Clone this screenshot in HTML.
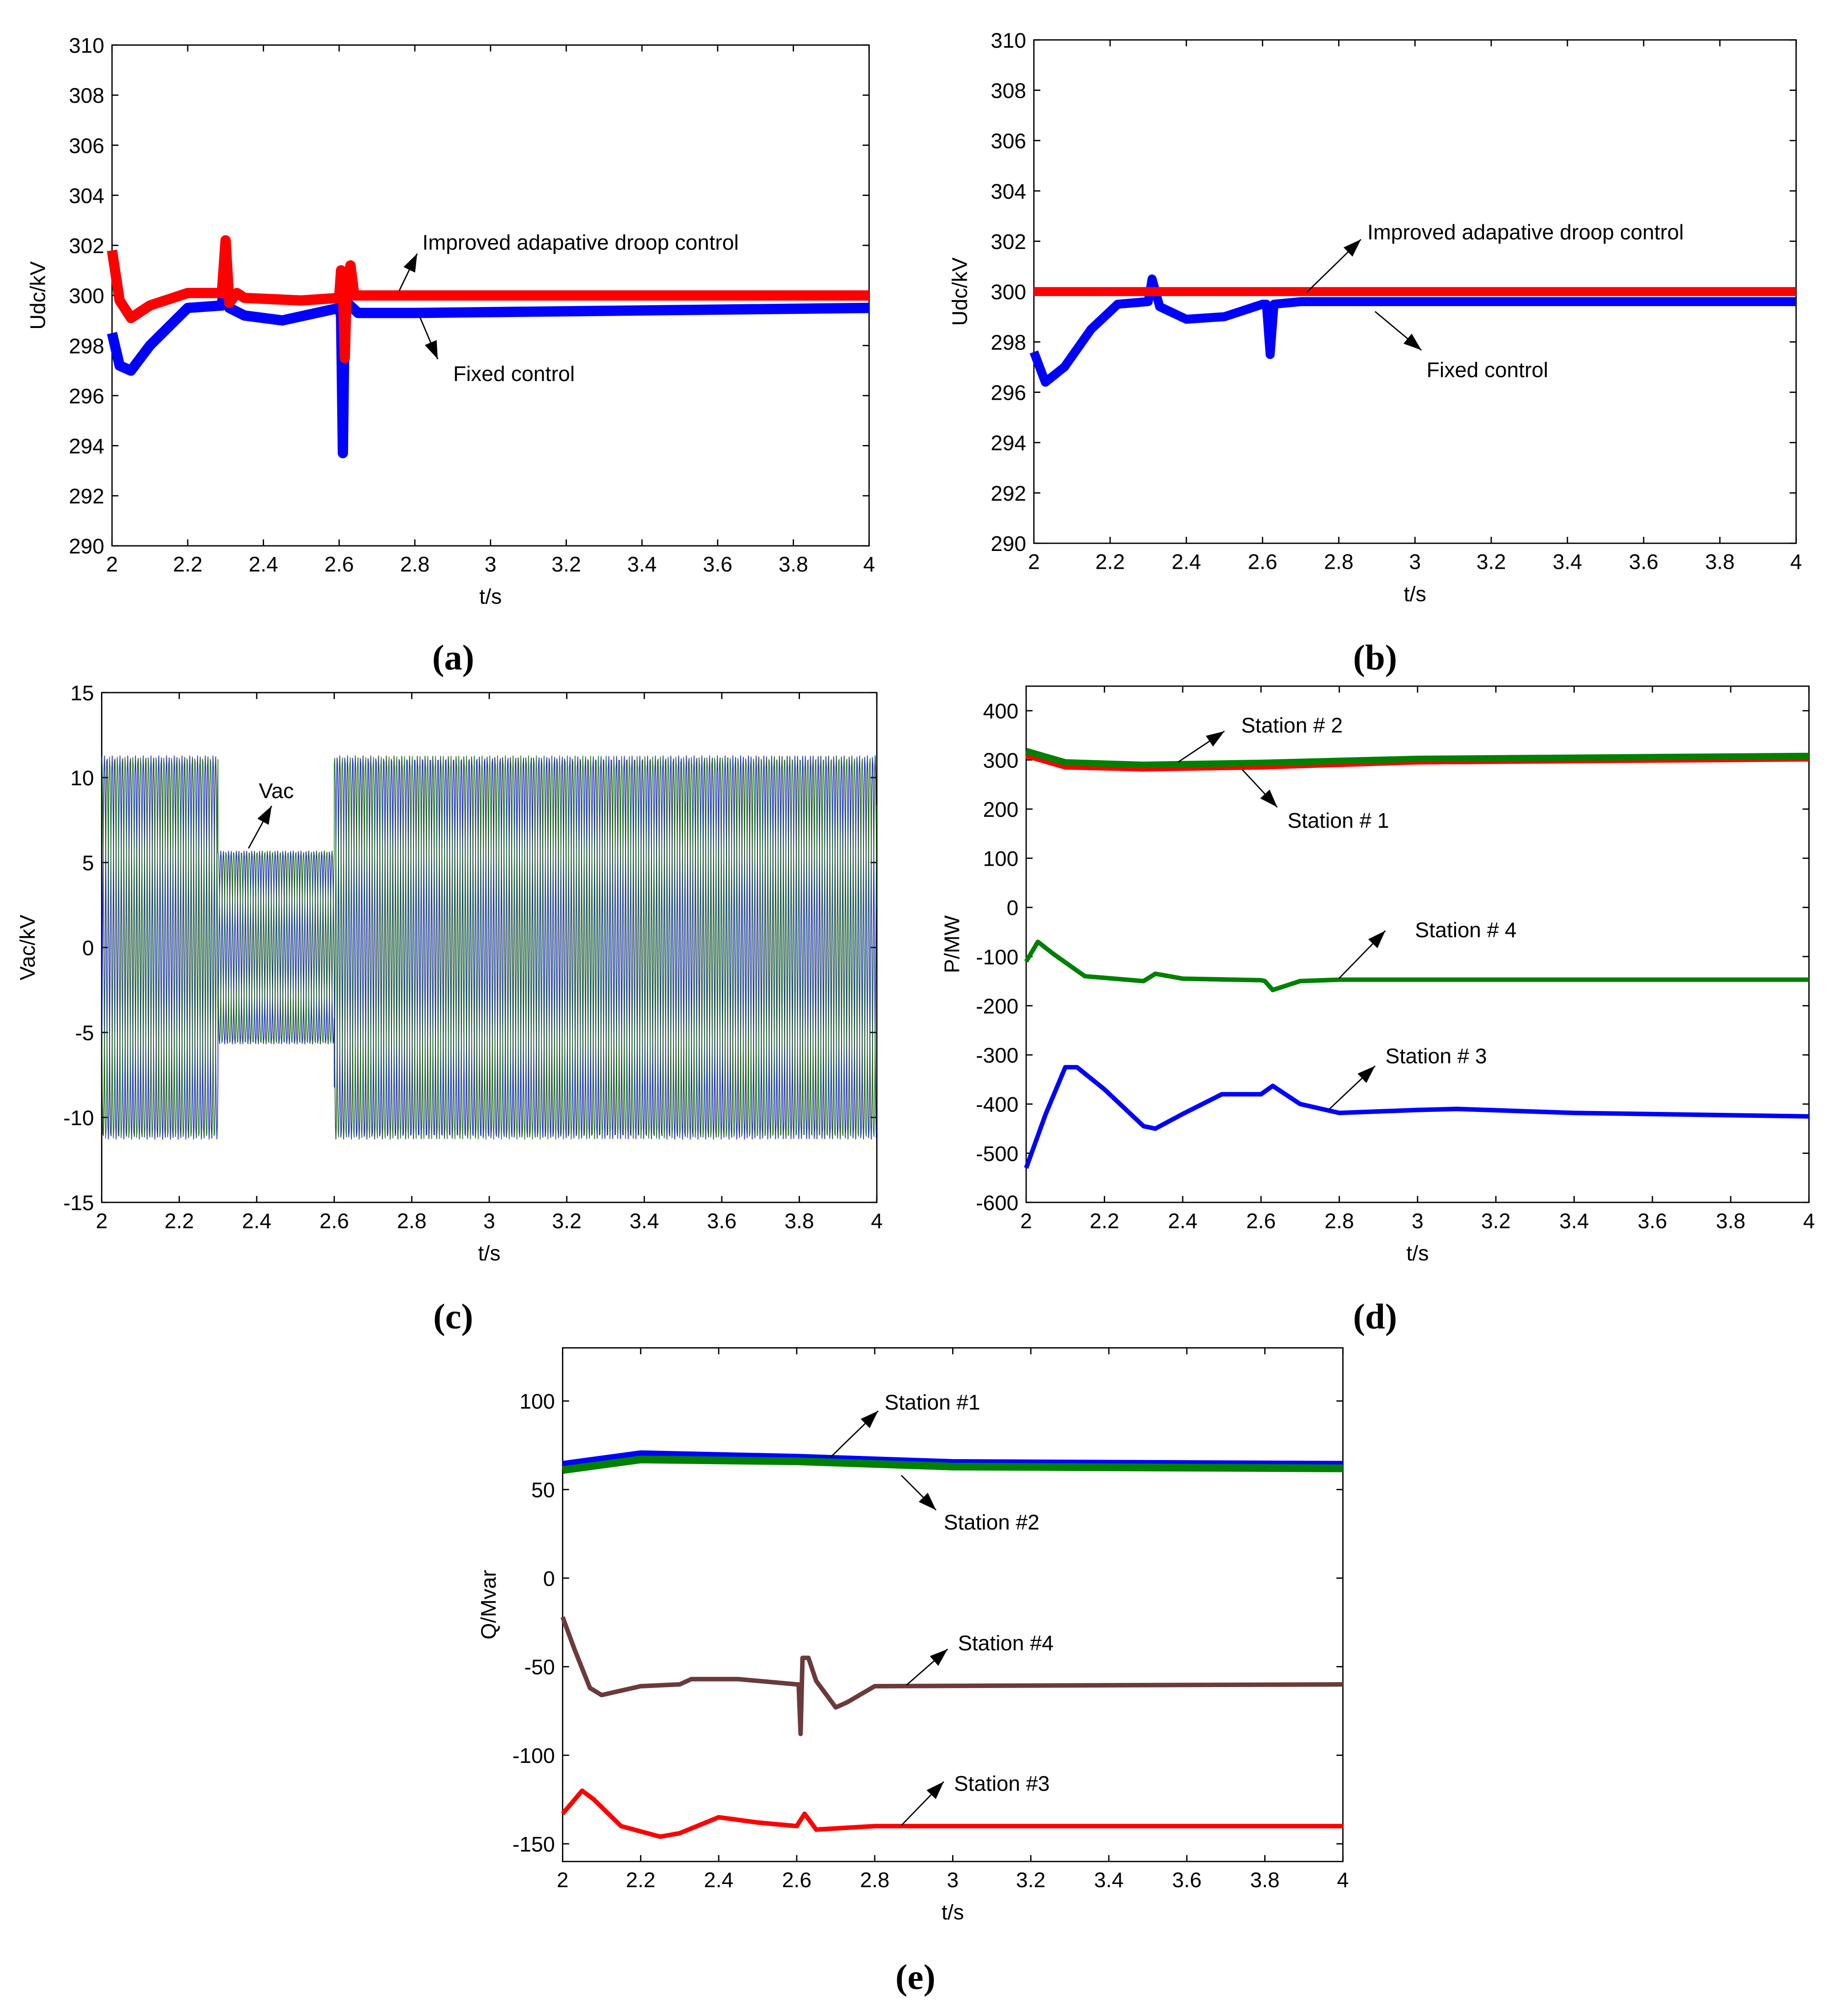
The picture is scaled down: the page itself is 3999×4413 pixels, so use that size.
<!DOCTYPE html>
<html><head><meta charset="utf-8"><style>
html,body{margin:0;padding:0;background:#fff;}
svg{display:block;}
text{font-family:"Liberation Sans",sans-serif;}
.lbl{font-family:"Liberation Serif",serif;font-weight:bold;font-size:28px;}
</style></head><body>
<svg id="fig" width="3999" height="4413" viewBox="0 0 1419 1566" preserveAspectRatio="none" xmlns="http://www.w3.org/2000/svg"></svg>
<script>
// ---- data ----
const aTicksY=[290,292,294,296,298,300,302,304,306,308,310];
const xTicks=[2,2.2,2.4,2.6,2.8,3,3.2,3.4,3.6,3.8,4];
const aRedT=[2,2.02,2.05,2.1,2.2,2.29,2.3,2.31,2.33,2.35,2.5,2.6,2.605,2.61,2.615,2.62,2.63,2.64,2.7,4];
const aRedV=[301.8,299.8,299.1,299.6,300.1,300.1,302.2,299.7,300.1,299.9,299.8,299.9,301,300.5,297.5,300.5,301.2,300,300,300];
const aBlueT=[2,2.02,2.05,2.1,2.2,2.29,2.3,2.31,2.35,2.45,2.6,2.605,2.61,2.615,2.65,2.8,4];
const aBlueV=[298.5,297.2,297,298,299.5,299.6,301,299.5,299.2,299,299.5,299.2,293.7,299.8,299.3,299.3,299.5];
const bRedT=[2,4];
const bRedV=[300,300];
const bBlueT=[2,2.03,2.08,2.15,2.22,2.3,2.31,2.33,2.4,2.5,2.6,2.61,2.62,2.63,2.7,4];
const bBlueV=[297.6,296.4,297,298.5,299.5,299.6,300.5,299.4,298.9,299,299.5,299.5,297.5,299.5,299.6,299.6];
const cTicksY=[-15,-10,-5,0,5,10,15];
const cSegT=[2,2.3,2.6,4];
const cSegAmp=[11.3,5.7,11.3];
const cFreq=[50];
const dTicksY=[-600,-500,-400,-300,-200,-100,0,100,200,300,400];
const dS2T=[2,2.1,2.3,2.6,3,4];const dS2V=[318,295,290,294,302,308];
const dS1T=[2,2.1,2.3,2.6,3,4];const dS1V=[310,287,283,287,297,303];
const dS4T=[2,2.03,2.07,2.15,2.3,2.33,2.4,2.6,2.61,2.63,2.7,2.8,4];
const dS4V=[-110,-70,-95,-140,-150,-135,-145,-148,-150,-168,-150,-147,-147];
const dS3T=[2,2.05,2.1,2.13,2.2,2.3,2.33,2.4,2.5,2.6,2.63,2.7,2.8,3,3.1,3.4,4];
const dS3V=[-530,-420,-325,-325,-370,-445,-450,-420,-380,-380,-363,-400,-418,-412,-410,-418,-425];
const eTicksY=[-150,-100,-50,0,50,100];
const eS1T=[2,2.2,2.6,3,4];const eS1V=[64,70,68,65,64];
const eS2T=[2,2.2,2.6,3,4];const eS2V=[61,67,66,63,62];
const eS4T=[2,2.03,2.07,2.1,2.2,2.3,2.33,2.45,2.6,2.605,2.61,2.615,2.63,2.65,2.7,2.73,2.8,4];
const eS4V=[-22,-40,-62,-66,-61,-60,-57,-57,-60,-60,-88,-45,-45,-58,-73,-70,-61,-60];
const eS3T=[2,2.05,2.08,2.15,2.25,2.3,2.4,2.5,2.6,2.62,2.65,2.8,4];
const eS3V=[-133,-120,-125,-140,-146,-144,-135,-138,-140,-133,-142,-140,-140];

const NS="http://www.w3.org/2000/svg";
const svg=document.getElementById('fig');
function mk(tag,attrs,parent){const e=document.createElementNS(NS,tag);for(const k in attrs)e.setAttribute(k,attrs[k]);(parent||svg).appendChild(e);return e;}
function txt(s,x,y,attrs,parent){const t=mk('text',Object.assign({x:x,y:y},attrs),parent);t.textContent=s;return t;}

function axes(name,box,ymin,ymax,yt,ylab,fs){
  const g=mk('g',{});
  
  
  const sx=t=>box.x0+(t-2)/2*(box.x1-box.x0);
  const sy=v=>box.y1-(v-ymin)/(ymax-ymin)*(box.y1-box.y0);
  const fr=mk('rect',{x:box.x0,y:box.y0,width:box.x1-box.x0,height:box.y1-box.y0,fill:'none',stroke:'#000','stroke-width':1},g);
  
  xTicks.forEach(t=>{const x=sx(t);
    mk('line',{x1:x,x2:x,y1:box.y1,y2:box.y1-5,stroke:'#000'},g);
    mk('line',{x1:x,x2:x,y1:box.y0,y2:box.y0+5,stroke:'#000'},g);
    const l=txt(String(t),x,box.y1+20,{'font-size':fs,'text-anchor':'middle'},g);
    });
  yt.forEach(v=>{const y=sy(v);
    mk('line',{x1:box.x0,x2:box.x0+5,y1:y,y2:y,stroke:'#000'},g);
    mk('line',{x1:box.x1,x2:box.x1-5,y1:y,y2:y,stroke:'#000'},g);
    const l=txt(String(v),box.x0-6,y+6,{'font-size':fs,'text-anchor':'end'},g);
    });
  const xl=txt('t/s',(box.x0+box.x1)/2,box.y1+45,{'font-size':fs,'text-anchor':'middle'},g);
  
  const ylx=box.x0-52,yly=(box.y0+box.y1)/2;
  const yl=txt(ylab,ylx,yly,{'font-size':fs,'text-anchor':'middle',transform:`rotate(-90 ${ylx} ${yly})`},g);
  
  return {g,sx,sy};
}
function series(ax,name,T,V,color,w){
  const d=T.map((t,i)=>(i?'L':'M')+ax.sx(t).toFixed(1)+' '+ax.sy(V[i]).toFixed(1)).join(' ');
  const p=mk('path',{d:d,fill:'none',stroke:color,'stroke-width':w,'stroke-linejoin':'round'},ax.g);
  
}
function arrow(g,x1,y1,x2,y2){
  mk('line',{x1:x1,y1:y1,x2:x2,y2:y2,stroke:'#000','stroke-width':1},g);
  const a=Math.atan2(y2-y1,x2-x1),L=14,W=5;
  const bx=x2-L*Math.cos(a),by=y2-L*Math.sin(a);
  mk('polygon',{points:`${x2},${y2} ${bx+W*Math.sin(a)},${by-W*Math.cos(a)} ${bx-W*Math.sin(a)},${by+W*Math.cos(a)}`,fill:'#000'},g);
}
function note(g,s,x,y,fs){const t=txt(s,x,y,{'font-size':fs},g);}
function panelLabel(s,x,y){const t=txt(s,x,y,{'class':'lbl','text-anchor':'middle'});}

// (a)
const A=axes('chart-a',{x0:87,x1:675,y0:35,y1:424},290,310,aTicksY,'Udc/kV',16.5);
series(A,'fixed-control-line',aBlueT,aBlueV,'#0000ff',8);
series(A,'improved-droop-line',aRedT,aRedV,'#ff0000',8);
arrow(A.g,310,226,324,197);note(A.g,'Improved adapative droop control',328,194,16.5);
arrow(A.g,326,246,340,279);note(A.g,'Fixed control',352,296,16.5);
panelLabel('(a)',352,520);

// (b)
const B=axes('chart-b',{x0:803,x1:1395,y0:31,y1:422},290,310,aTicksY,'Udc/kV',16.5);
series(B,'fixed-control-line',bBlueT,bBlueV,'#0000ff',7);
series(B,'improved-droop-line',bRedT,bRedV,'#ff0000',7);
arrow(B.g,1015,227,1057,186);note(B.g,'Improved adapative droop control',1062,186,16.5);
arrow(B.g,1068,242,1104,272);note(B.g,'Fixed control',1108,293,16.5);
panelLabel('(b)',1068,520);

// (c)
const C=axes('chart-c',{x0:79,x1:681,y0:538,y1:934},-15,15,cTicksY,'Vac/kV',16.5);
(function(){
  const cols=['#0000ff','#007000','#003000'];
  for(let ph=0;ph<3;ph++){
    let d='';
    for(let s=0;s<cSegAmp.length;s++){
      const n=Math.round((cSegT[s+1]-cSegT[s])*cFreq[0]*2*7);
      for(let i=0;i<=n;i++){
        const t=cSegT[s]+(cSegT[s+1]-cSegT[s])*i/n;
        const v=cSegAmp[s]*Math.sin(2*Math.PI*cFreq[0]*t*0.999+ph*2.094);
        d+=(d?'L':'M')+C.sx(t).toFixed(2)+' '+C.sy(v).toFixed(2);
      }
    }
    const p=mk('path',{d:d,fill:'none',stroke:cols[ph],'stroke-width':0.6,opacity:0.85},C.g);
    
  }
})();
arrow(C.g,193,659,211,626);note(C.g,'Vac',201,620,16.5);
panelLabel('(c)',352,1032);

// (d)
const D=axes('chart-d',{x0:797,x1:1405,y0:533,y1:934},-600,450,dTicksY,'P/MW',16.5);
series(D,'station-1-line',dS1T,dS1V,'#ff0000',5);
series(D,'station-2-line',dS2T,dS2V,'#008000',5);
series(D,'station-4-line',dS4T,dS4V,'#008000',3.5);
series(D,'station-3-line',dS3T,dS3V,'#0000ff',3.5);
arrow(D.g,915,592,951,568);note(D.g,'Station # 2',964,569,16.5);
arrow(D.g,965,598,992,627);note(D.g,'Station # 1',1000,643,16.5);
arrow(D.g,1040,760,1076,723);note(D.g,'Station # 4',1099,728,16.5);
arrow(D.g,1032,862,1068,828);note(D.g,'Station # 3',1076,826,16.5);
panelLabel('(d)',1068,1032);

// (e)
const E=axes('chart-e',{x0:437,x1:1043,y0:1047,y1:1446},-160,130,eTicksY,'Q/Mvar',16.5);
series(E,'station-1-line',eS1T,eS1V,'#0000ff',6);
series(E,'station-2-line',eS2T,eS2V,'#008000',6);
series(E,'station-4-line',eS4T,eS4V,'#6b3a3a',3.5);
series(E,'station-3-line',eS3T,eS3V,'#ff0000',3.5);
arrow(E.g,645,1132,682,1096);note(E.g,'Station #1',687,1095,16.5);
arrow(E.g,700,1146,727,1173);note(E.g,'Station #2',733,1188,16.5);
arrow(E.g,704,1309,736,1281);note(E.g,'Station #4',744,1282,16.5);
arrow(E.g,700,1418,733,1384);note(E.g,'Station #3',741,1391,16.5);
panelLabel('(e)',711,1545);
</script>
</body></html>
